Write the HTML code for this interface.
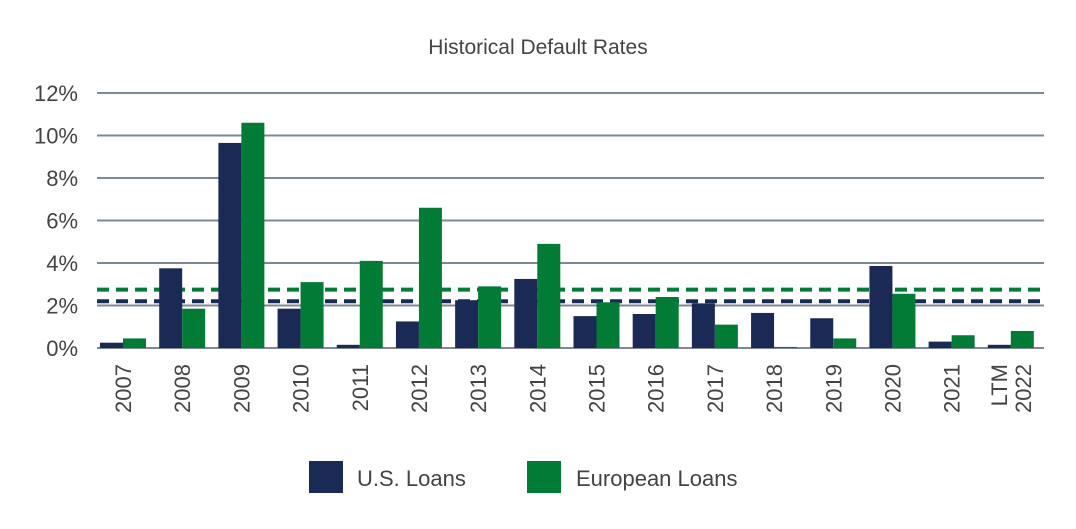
<!DOCTYPE html>
<html><head><meta charset="utf-8"><style>
body{margin:0;background:#fff;width:1076px;height:524px;overflow:hidden}
svg text{font-family:"Liberation Sans",sans-serif;fill:#444}
</style></head><body>
<svg id="chart" width="1076" height="524" xmlns="http://www.w3.org/2000/svg">
<text x="538" y="54" text-anchor="middle" font-size="21">Historical Default Rates</text>
<g id="grid"></g><g id="avg"></g><g id="bars"></g><g id="xlabels"></g>
<g>
<rect x="309" y="461" width="34" height="32" fill="#1b2a55"/>
<text x="357" y="486" font-size="22">U.S. Loans</text>
<rect x="527" y="461" width="34" height="32" fill="#027b36"/>
<text x="576" y="486" font-size="22">European Loans</text>
</g>
</svg>
<script>
const categories=["2007","2008","2009","2010","2011","2012","2013","2014","2015","2016","2017","2018","2019","2020","2021","LTM 2022"];
const usLoans=[0.25,3.75,9.65,1.85,0.15,1.25,2.25,3.25,1.5,1.6,2.1,1.65,1.4,3.86,0.3,0.15];
const euLoans=[0.45,1.85,10.6,3.1,4.1,6.6,2.9,4.9,2.15,2.4,1.1,0.05,0.45,2.55,0.6,0.8];
const usAvg=2.2, euAvg=2.75;
const yTicks=[0,2,4,6,8,10,12];
const NS="http://www.w3.org/2000/svg";
const x0=97,x1=1044,y0=348,y1=93,maxV=12;
const band=(x1-x0)/categories.length;
const y=v=>y0-(v/maxV)*(y0-y1);
function mk(t,a,p){const e=document.createElementNS(NS,t);for(const k in a)e.setAttribute(k,a[k]);p.appendChild(e);return e;}
const grid=document.getElementById('grid');
yTicks.forEach(t=>{
 const l=mk('line',{x1:x0,x2:x1,y1:y(t),y2:y(t),stroke:'#7d8a94','stroke-width':2},grid);
 
 
 const tx=mk('text',{x:78,y:y(t)+8,'text-anchor':'end','font-size':22},grid);
 tx.textContent=t+'%';
 
 
});
const avg=document.getElementById('avg');
[[euAvg,'#027b36','eu-average-line'],[usAvg,'#1b2a55','us-average-line']].forEach(([v,c,n])=>{
 const l=mk('line',{x1:x0,x2:x1,y1:y(v),y2:y(v),stroke:c,'stroke-width':4,'stroke-dasharray':'12 7'},avg);
 
 
});
const bars=document.getElementById('bars'),xl=document.getElementById('xlabels');
categories.forEach((c,i)=>{
 const bx=x0+i*band+3,w=23;
 const a=mk('rect',{x:bx,y:y(usLoans[i]),width:w,height:y0-y(usLoans[i]),fill:'#1b2a55'},bars);
 
 
 const b=mk('rect',{x:bx+w,y:y(euLoans[i]),width:w,height:y0-y(euLoans[i]),fill:'#027b36'},bars);
 
 
 const cx=bx+w;
 const parts=c.split(' ');
 parts.forEach((p,j)=>{
  const off=(j-(parts.length-1)/2)*24;
  const t=mk('text',{x:0,y:0,'text-anchor':'end','font-size':22,transform:`translate(${cx+8+off},364) rotate(-90)`},xl);
  t.textContent=p;
  
  
 });
});
</script>
</body></html>
